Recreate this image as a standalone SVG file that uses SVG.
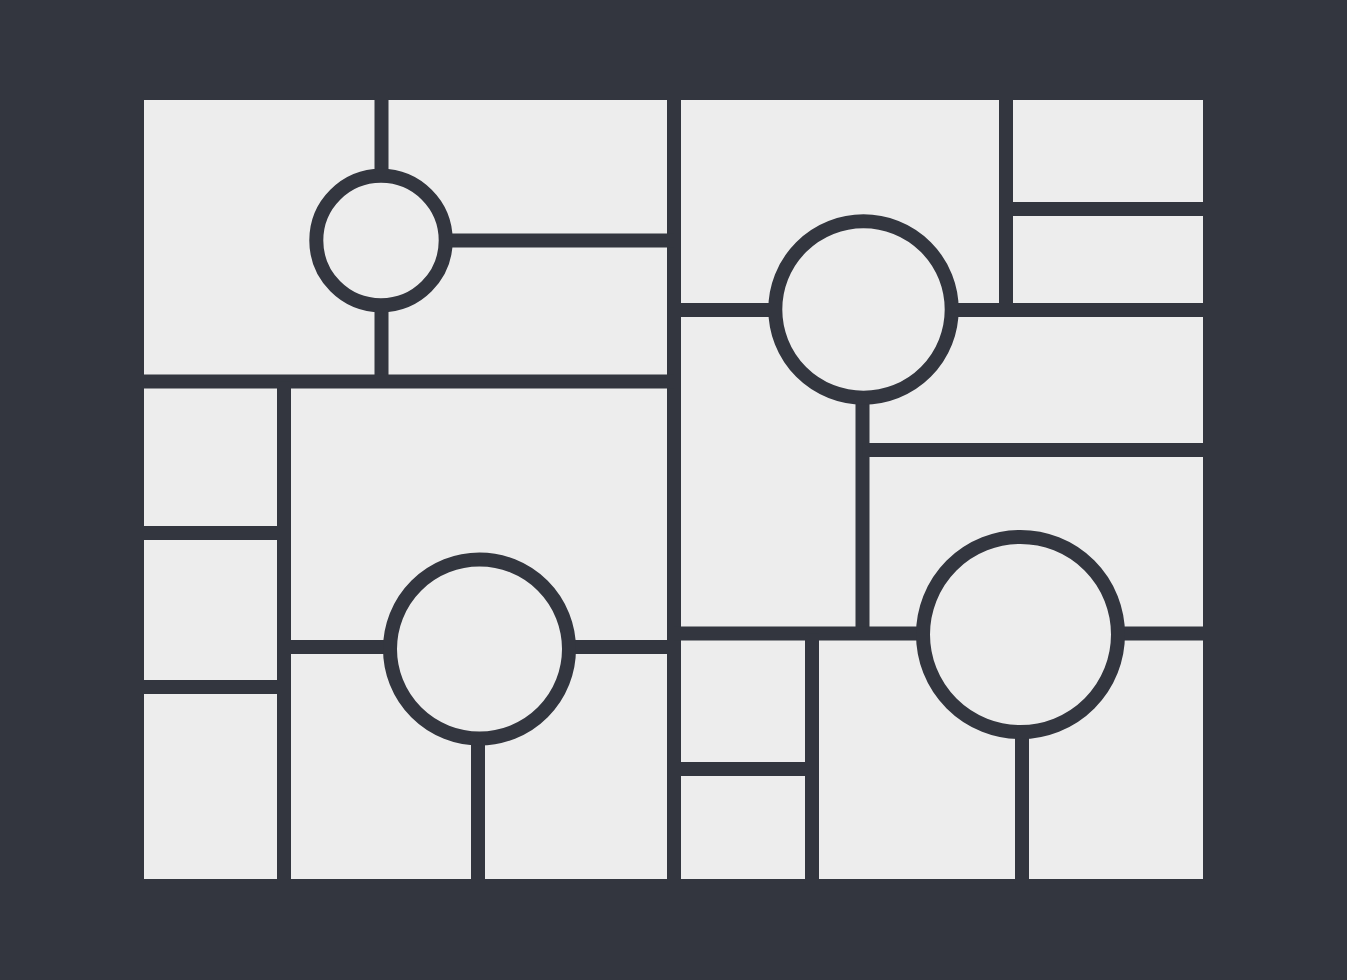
<svg xmlns="http://www.w3.org/2000/svg" width="1347" height="980" viewBox="0 0 1347 980">
  <style>
    .ln { stroke: #33363f; stroke-width: 14; fill: none; }
    .ring { stroke: #33363f; stroke-width: 14; fill: #ededed; }
  </style>
  <rect x="0" y="0" width="1347" height="980" fill="#33363f"/>
  <rect x="144" y="100" width="1059" height="779" fill="#ededed"/>
  <g id="lines">
    <line class="ln" x1="674" y1="95" x2="674" y2="885"/>
    <line class="ln" x1="381.5" y1="95" x2="381.5" y2="381.5"/>
    <line class="ln" x1="381" y1="240.5" x2="674" y2="240.5"/>
    <line class="ln" x1="140" y1="381.5" x2="674" y2="381.5"/>
    <line class="ln" x1="284" y1="381.5" x2="284" y2="885"/>
    <line class="ln" x1="140" y1="533" x2="284" y2="533"/>
    <line class="ln" x1="140" y1="687" x2="284" y2="687"/>
    <line class="ln" x1="284" y1="647" x2="674" y2="647"/>
    <line class="ln" x1="478" y1="649" x2="478" y2="885"/>
    <line class="ln" x1="674" y1="310" x2="1208" y2="310"/>
    <line class="ln" x1="1006" y1="95" x2="1006" y2="310"/>
    <line class="ln" x1="1006" y1="209" x2="1208" y2="209"/>
    <line class="ln" x1="862.5" y1="310" x2="862.5" y2="633.5"/>
    <line class="ln" x1="862.5" y1="450" x2="1208" y2="450"/>
    <line class="ln" x1="674" y1="633.5" x2="1208" y2="633.5"/>
    <line class="ln" x1="812" y1="633.5" x2="812" y2="885"/>
    <line class="ln" x1="674" y1="769" x2="812" y2="769"/>
    <line class="ln" x1="1022" y1="634" x2="1022" y2="885"/>
  </g>
  <g id="circle1"><circle class="ring" cx="381" cy="240.5" r="64.7"/></g>
  <g id="circle2"><circle class="ring" cx="479.5" cy="649" r="89.5"/></g>
  <g id="circle3"><circle class="ring" cx="863.5" cy="309.5" r="88.2"/></g>
  <g id="circle4"><circle class="ring" cx="1020.5" cy="634.5" r="97.5"/></g>
</svg>
